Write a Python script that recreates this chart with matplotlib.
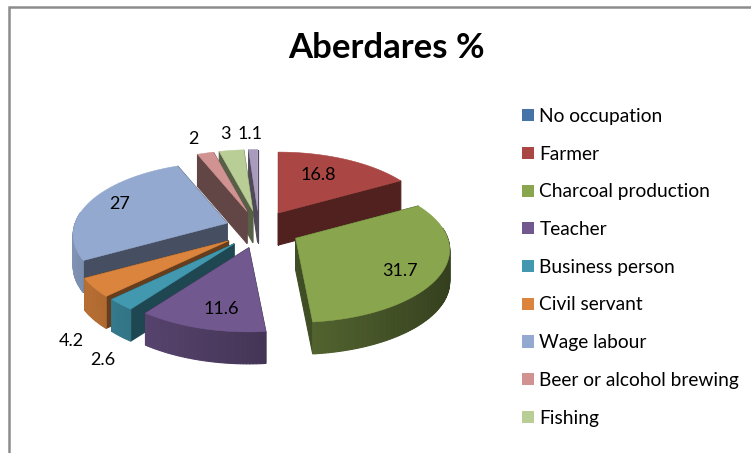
import numpy as np
import matplotlib
matplotlib.use('Agg')
import matplotlib.pyplot as plt
from matplotlib.patches import Patch

plt.rcParams['font.family'] = ['Lato', 'DejaVu Sans']

categories = ['No occupation', 'Farmer', 'Charcoal production', 'Teacher', 'Business person',
              'Civil servant', 'Wage labour', 'Beer or alcohol brewing', 'Fishing', 'Other']
values = [0, 16.8, 31.7, 11.6, 2.6, 4.2, 27, 2, 3, 1.1]
value_labels = ['', '16.8', '31.7', '11.6', '2.6', '4.2', '27', '2', '3', '1.1']
colors = ['#4572a7', '#aa4643', '#89a54e', '#71588f', '#4198af',
          '#db843d', '#93a9cf', '#d19392', '#b9cd96', '#a99bbd']

# where the labels sit, in pixels
label_pos = {1: (318, 175), 2: (400, 271), 3: (221, 309), 4: (103, 360), 5: (71, 341),
             6: (120, 204), 7: (193, 139), 8: (225, 134), 9: (250, 134)}

# fake 3d pie settings, fitted on the picture
cx, cy = 259, 229.5
radius = 152
radius_y = 70.7
persp = 0.159
explode_x, explode_y = 38, 19
depth = 32
# small sideways corrections for two wedges
nudge = {2: 3, 6: 4}


def project(angle):
    # angle is clockwise from 12 o'clock, in degrees
    u = np.sin(np.radians(angle))
    v = np.cos(np.radians(angle))
    s = 1 / (1 + persp * v)
    return radius * u * s, -radius_y * v * s


def shade(color, f):
    return tuple(min(1, c * f) for c in matplotlib.colors.to_rgb(color))


def quad(ax, p, q, color, zorder):
    xs = [p[0], q[0], q[0], p[0]]
    ys = [p[1], q[1], q[1] + depth, p[1] + depth]
    ax.fill(xs, ys, color=color, lw=0.8, zorder=zorder)


fig, ax = plt.subplots(figsize=(7.51, 4.53), dpi=100)
ax.set_position([0, 0, 1, 1])
ax.set_xlim(0, 751)
ax.set_ylim(453, 0)
ax.axis('off')

# chart frame
ax.plot([9, 9, 751], [453, 6.5, 6.5], color='#8c8c8c', lw=1.8, solid_joinstyle='miter')

# back wedges are drawn first
order = [9, 8, 7, 1, 6, 5, 4, 3, 2]
total = sum(values)
starts = np.cumsum([0] + values[:-1]) / total * 360
ends = np.cumsum(values) / total * 360

for n, i in enumerate(order):
    a0, a1 = starts[i], ends[i]
    mid = (a0 + a1) / 2
    ax0 = cx + explode_x * np.sin(np.radians(mid)) + nudge.get(i, 0)
    ay0 = cy - explode_y * np.cos(np.radians(mid))
    angles = np.linspace(a0, a1, max(int(a1 - a0), 2) + 1)
    rim = [(ax0 + x, ay0 + y) for x, y in map(project, angles)]
    z = 10 + n * 10

    # cut faces
    quad(ax, (ax0, ay0), rim[0], shade(colors[i], 0.47), z)
    quad(ax, (ax0, ay0), rim[-1], shade(colors[i], 0.47), z)
    # outer wall, only the part turned to the viewer
    for j in range(len(rim) - 1):
        a = (angles[j] + angles[j + 1]) / 2
        if np.cos(np.radians(a)) < 0.15:
            f = 0.62 - 0.25 * np.sin(np.radians(a))
            quad(ax, rim[j], rim[j + 1], shade(colors[i], f), z + 1)
    # top
    px = [ax0] + [p[0] for p in rim]
    py = [ay0] + [p[1] for p in rim]
    ax.fill(px, py, color=colors[i], lw=0.4, zorder=z + 2)

for i, (x, y) in label_pos.items():
    ax.text(x, y, value_labels[i], ha='center', va='center', fontsize=13, color='black', zorder=200)

ax.text(386, 48, 'Aberdares %', ha='center', va='center', fontsize=25, fontweight='bold', color='black')

handles = [Patch(facecolor=colors[i], label=categories[i]) for i in range(9)]
ax.legend(handles=handles, loc='upper left', bbox_to_anchor=(522 / 751, 1 - 108 / 453), frameon=False,
          fontsize=13.8, handlelength=0.6, handleheight=0.6, handletextpad=0.31,
          labelspacing=1.08, borderpad=0, borderaxespad=0, labelcolor='black')

fig.savefig('out.png', dpi=100)
